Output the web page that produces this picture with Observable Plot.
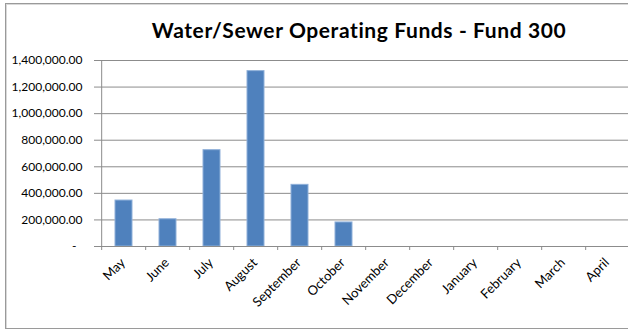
<!DOCTYPE html>
<html>
<head>
<meta charset="utf-8">
<script src="https://cdn.jsdelivr.net/npm/d3@7"></script>
<script src="https://cdn.jsdelivr.net/npm/@observablehq/plot@0.6"></script>
<style>
  html, body { margin: 0; padding: 0; background: #fff; overflow: hidden; }
  #wrap { position: relative; width: 628px; height: 332px; overflow: hidden; font-family: Lato, "Open Sans", sans-serif; }
  #frame { position: absolute; left: 5px; top: 3px; width: 660px; height: 324px; border: 1px solid #9a9a9a; box-shadow: 1px 1px 0 #d9d9d9 inset; }
  #title { position: absolute; top: 19px; left: 139px; width: 440px; text-align: center; font-weight: bold; font-size: 21px; line-height: 21px; letter-spacing: 0.6px; color: #000; white-space: nowrap; }
  #chart { position: absolute; left: 0; top: 0; width: 640px; }
  #chart svg { max-width: none !important; }
</style>
</head>
<body>
<div id="wrap">
  <div id="frame"></div>
  <div id="chart"></div>
  <div id="title">Water/Sewer Operating Funds - Fund 300</div>
</div>
<script>
const months = ["May","June","July","August","September","October","November","December","January","February","March","April"];
const amounts = [346000, 205000, 725000, 1320000, 464000, 181000, null, null, null, null, null, null];
const yTicks = [0, 200000, 400000, 600000, 800000, 1000000, 1200000, 1400000];

const data = months.map((m, i) => ({month: m, value: amounts[i]}));
const barData = data.filter(d => d.value != null);

const W = 640, H = 332;
const mL = 98, mR = 6.4, mT = 60, mB = 86;
const step = (W - mL - mR) / months.length;
const fmt = d3.format(",.2f");
const gray = "#8c8c8c";

const chart = Plot.plot({
  width: W,
  height: H,
  marginLeft: mL,
  marginRight: mR,
  marginTop: mT,
  marginBottom: mB,
  style: {fontFamily: "Lato, 'Open Sans', sans-serif", fontSize: "12px", color: "#000", background: "transparent", overflow: "visible", maxWidth: "none"},
  x: {domain: months, paddingInner: 0.61, paddingOuter: 0.305, label: null},
  y: {domain: [0, 1400000], label: null},
  marks: [
    Plot.gridY(yTicks, {stroke: gray, strokeOpacity: 1, strokeWidth: 1}),
    Plot.barY(barData, {x: "month", y: "value", fill: "#4F81BD", stroke: "#8fb0d9", strokeWidth: 1}),
    Plot.ruleY([0], {stroke: gray, strokeWidth: 1}),
    Plot.ruleX([0], {x: () => months[0], dx: -step / 2, y1: 0, y2: 1400000, stroke: gray}),
    Plot.axisY({ticks: yTicks, tickSize: 4, tickPadding: 12, stroke: gray,
      tickFormat: d => d === 0 ? "-\u00a0\u00a0" : fmt(d), fontSize: 12}),
    Plot.axisX({tickSize: 4, tickFormat: () => "", dx: -step / 2, stroke: gray}),
    Plot.axisX({tickSize: 0, tickRotate: -45, tickPadding: 14, dx: -1, fontSize: 13})
  ]
});
document.getElementById("chart").appendChild(chart);
</script>
</body>
</html>
